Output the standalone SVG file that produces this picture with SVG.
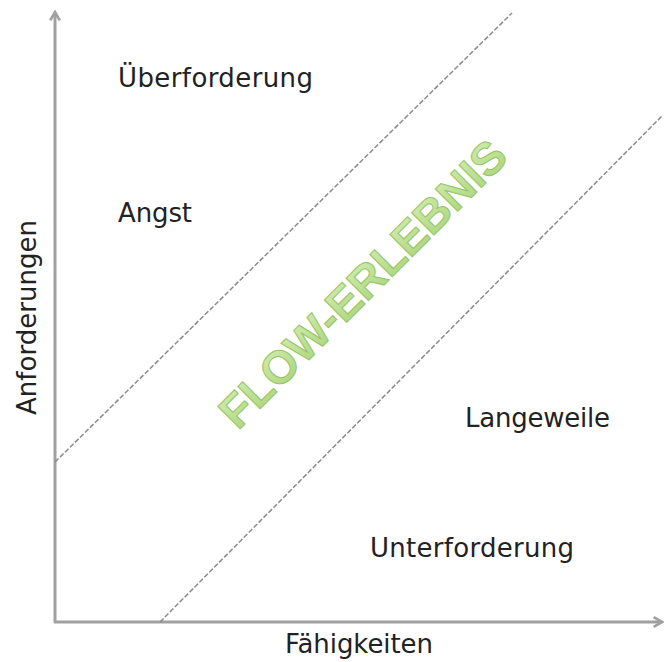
<svg xmlns="http://www.w3.org/2000/svg" width="670" height="662" viewBox="0 0 670 662">
<defs>
<marker id="arr" viewBox="0 0 10 10" refX="8" refY="5" markerWidth="4" markerHeight="4" orient="auto" markerUnits="strokeWidth">
<path d="M1,1 L8,5 L1,9" fill="none" stroke="#a0a0a0" stroke-width="2.2"/>
</marker>
<linearGradient id="g" x1="0" y1="0" x2="0" y2="1">
<stop offset="0" stop-color="#d3edb3"/>
<stop offset="1" stop-color="#a9d478"/>
</linearGradient>
<style>
.lbl{font-family:"DejaVu Sans","Liberation Sans",sans-serif;font-size:26px;fill:#222}
.axis{stroke:#a0a0a0;stroke-width:3;fill:none}
.dash{stroke:#8a8a8a;stroke-width:1.5;stroke-dasharray:5 2;fill:none}
.flow{font-family:"Liberation Sans","DejaVu Sans",sans-serif;font-weight:bold;font-size:46px;fill:url(#g);stroke:#97c465;stroke-width:1}
</style>
</defs>
<rect width="670" height="662" fill="#fff"/>
<g id="connectors">
<line class="axis" x1="55" y1="623" x2="55" y2="12" marker-end="url(#arr)"/>
<line class="axis" x1="54" y1="622" x2="662" y2="622" marker-end="url(#arr)"/>
<line class="dash" x1="55" y1="462" x2="512" y2="13"/>
<line class="dash" x1="160" y1="622" x2="663" y2="115"/>
</g>
<g id="n-ueberforderung"><text class="lbl" x="118" y="87" textLength="195">Überforderung</text></g>
<g id="n-angst"><text class="lbl" x="118" y="222" textLength="74">Angst</text></g>
<g id="n-langeweile"><text class="lbl" x="465" y="427" textLength="145">Langeweile</text></g>
<g id="n-unterforderung"><text class="lbl" x="370" y="557" textLength="204">Unterforderung</text></g>
<g id="n-faehigkeiten"><text class="lbl" x="285" y="653" textLength="148">Fähigkeiten</text></g>
<g id="n-anforderungen"><text class="lbl" transform="translate(36,415) rotate(-90)" x="0" y="0" textLength="195">Anforderungen</text></g>
<g id="n-flow"><text class="flow" transform="translate(374,295) rotate(-45)" text-anchor="middle" textLength="385" lengthAdjust="spacingAndGlyphs">FLOW-ERLEBNIS</text></g>
</svg>
